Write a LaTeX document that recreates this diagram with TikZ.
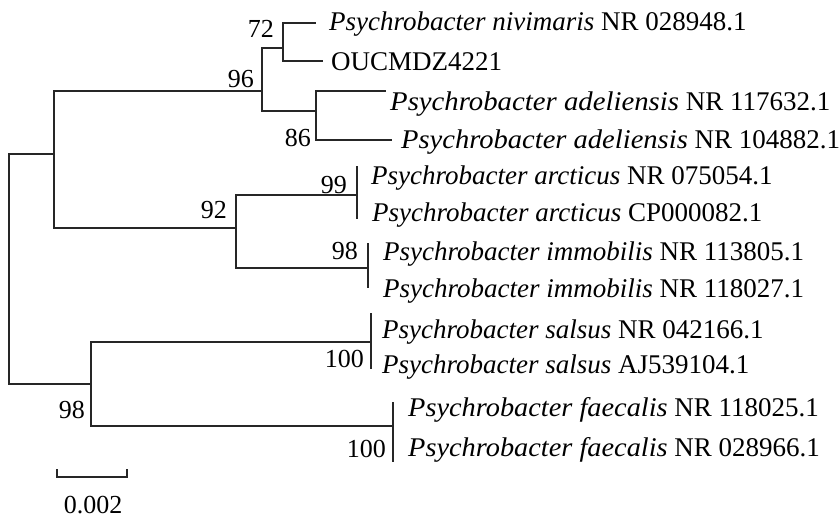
\documentclass[tikz,border=0pt]{standalone}
\usepackage{graphicx}
\usepackage{fontspec}
\setmainfont{Liberation Serif}
% wider italic run used in a few taxon names
\newcommand{\wideit}[2]{\scalebox{#1}[1]{\textit{#2}}}
\begin{document}
\begin{tikzpicture}[x=1pt,y=-1pt,
  branch/.style={draw=black!85, line width=1.1pt},
  leaf/.style={anchor=base west, inner sep=0pt, font=\fontsize{27}{30}\selectfont},
  boot/.style={anchor=base east, inner sep=0pt, font=\fontsize{26}{30}\selectfont}]
\useasboundingbox (0,0) rectangle (840,517);

% internal nodes (x of the vertical bar, y where the parent branch joins)
\coordinate (root) at (9,269);
\coordinate (A) at (54,154);
\coordinate (B) at (262,91);
\coordinate (C) at (283,48);
\coordinate (D) at (316,111);
\coordinate (E) at (236,228);
\coordinate (F) at (357,195);
\coordinate (G) at (368,268);
\coordinate (H) at (91,384);
\coordinate (I) at (371,342);
\coordinate (J) at (393,426);

% branch tips
\coordinate (tn) at (316,23);
\coordinate (to) at (323,61);
\coordinate (ta1) at (386,91);
\coordinate (ta2) at (392,140);
\coordinate (tf1) at (357,166);
\coordinate (tf2) at (357,219);
\coordinate (tg1) at (368,243);
\coordinate (tg2) at (368,288);
\coordinate (ti1) at (371,313);
\coordinate (ti2) at (371,369);
\coordinate (tj1) at (393,402);
\coordinate (tj2) at (393,462);

% tree branches
\draw[branch] (root) |- (A);
\draw[branch] (root) |- (H);
\draw[branch] (A) |- (B);
\draw[branch] (A) |- (E);
\draw[branch] (B) |- (C);
\draw[branch] (B) |- (D);
\draw[branch] (C) |- (tn);
\draw[branch] (C) |- (to);
\draw[branch] (D) |- (ta1);
\draw[branch] (D) |- (ta2);
\draw[branch] (E) |- (F);
\draw[branch] (E) |- (G);
\draw[branch] (tf1) -- (tf2);
\draw[branch] (tg1) -- (tg2);
\draw[branch] (H) |- (I);
\draw[branch] (H) |- (J);
\draw[branch] (ti1) -- (ti2);
\draw[branch] (tj1) -- (tj2);

% taxon labels
\node[leaf] (l1) at (329,30) {\textit{Psychrobacter nivimaris} NR 028948.1};
\node[leaf] (l2) at (331,70) {OUCMDZ4221};
\node[leaf] (l3) at (390,110) {\wideit{1.065}{Psychrobacter adeliensis} NR 117632.1};
\node[leaf] (l4) at (401,148) {\wideit{1.057}{Psychrobacter adeliensis} NR 104882.1};
\node[leaf] (l5) at (371,184) {\textit{Psychrobacter arcticus} NR 075054.1};
\node[leaf] (l6) at (372,221) {\textit{Psychrobacter arcticus} CP000082.1};
\node[leaf] (l7) at (383,260) {\textit{Psychrobacter immobilis} NR 113805.1};
\node[leaf] (l8) at (383,297) {\textit{Psychrobacter immobilis} NR 118027.1};
\node[leaf] (l9) at (382,338) {\textit{Psychrobacter salsus} NR 042166.1};
\node[leaf] (l10) at (382,373) {\textit{Psychrobacter salsus} AJ539104.1};
\node[leaf] (l11) at (408,416) {\wideit{1.05}{Psychrobacter faecalis} NR 118025.1};
\node[leaf] (l12) at (408,456) {\wideit{1.05}{Psychrobacter faecalis} NR 028966.1};

% bootstrap values
\node[boot] (bC) at (274,37) {72};
\node[boot] (bB) at (254,87) {96};
\node[boot] (bD) at (311,146) {86};
\node[boot] (bF) at (347,193) {99};
\node[boot] (bE) at (227,218) {92};
\node[boot] (bG) at (358,259) {98};
\node[boot] (bI) at (364,367) {100};
\node[boot] (bH) at (85,418) {98};
\node[boot] (bJ) at (386,457) {100};

% scale bar
\coordinate (s1) at (57,469);
\coordinate (s2) at (57,477);
\coordinate (s3) at (127,477);
\coordinate (s4) at (127,469);
\draw[branch] (s1) -- (s2) -- (s3) -- (s4);
\node[boot, anchor=base] (sl) at (93,513) {0.002};
\end{tikzpicture}
\end{document}
